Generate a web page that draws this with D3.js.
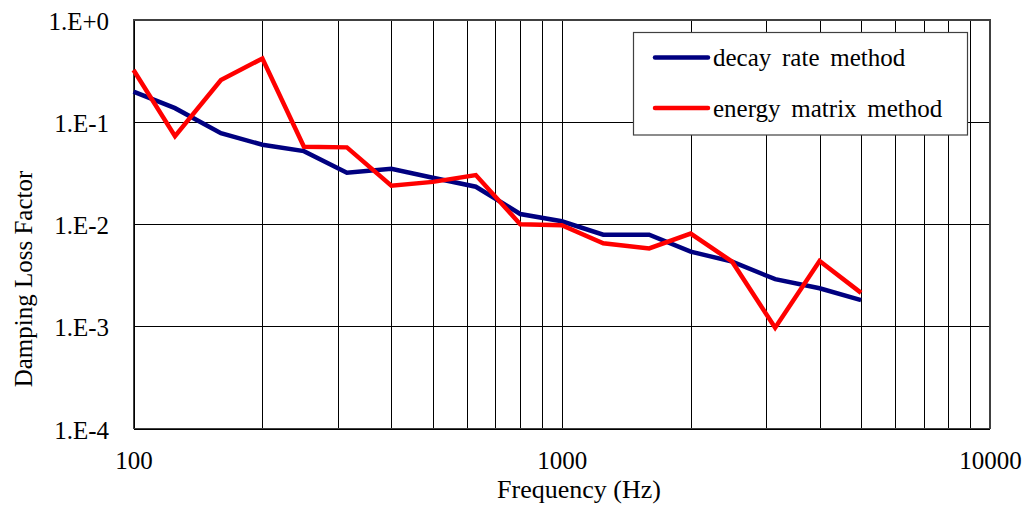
<!DOCTYPE html>
<html>
<head>
<meta charset="utf-8">
<script src="https://cdn.jsdelivr.net/npm/d3@7"></script>
<style>
  html, body { margin: 0; padding: 0; background: #fff; }
  svg { display: block; font-family: "Liberation Serif", "Times New Roman", serif; }
</style>
</head>
<body>
<div id="chart"></div>
<script>
const freqs = [100,125,160,200,250,315,400,500,630,800,1000,1250,1600,2000,2500,3150,4000,5000];
const decayRate = [0.199,0.137,0.078,0.060,0.052,0.032,0.035,0.0285,0.0233,0.0126,0.0107,0.0079,0.0079,0.0054,0.0043,0.0029,0.00236,0.00181];
const energyMatrix = [0.324,0.073,0.258,0.42,0.0574,0.0566,0.0238,0.026,0.0303,0.0100,0.0098,0.0065,0.0058,0.0081,0.0043,0.00097,0.00436,0.00213];
const seriesNames = ["decay rate method", "energy matrix method"];
const seriesColors = ["#000080", "#ff0000"];
const xGridValues = [100,200,300,400,500,600,700,800,900,1000,2000,3000,4000,5000,6000,7000,8000,9000,10000];
const xTickLabels = {100: "100", 1000: "1000", 10000: "10000"};
const yTickValues = [1e-4, 1e-3, 1e-2, 1e-1, 1];
const yTickLabels = ["1.E-4", "1.E-3", "1.E-2", "1.E-1", "1.E+0"];
const xTitle = "Frequency (Hz)";
const yTitle = "Damping Loss Factor";

const W = 1031, H = 506;
const plot = {left: 133.5, right: 990, top: 20, bottom: 428.5};

const svg = d3.select("#chart").append("svg").attr("width", W).attr("height", H);

const x = d3.scaleLog().domain([100, 10000]).range([plot.left, plot.right]);
const y = d3.scaleLog().domain([1e-4, 1]).range([plot.bottom, plot.top]);

// X axis with vertical gridlines
const xAxis = d3.axisBottom(x)
  .tickValues(xGridValues)
  .tickSize(-(plot.bottom - plot.top))
  .tickPadding(0)
  .tickFormat(d => xTickLabels[d] || "");
const gx = svg.append("g").attr("transform", `translate(0,${plot.bottom})`).call(xAxis);
gx.select(".domain").remove();
gx.selectAll(".tick line").attr("stroke", "#000").attr("stroke-width", 1).attr("shape-rendering", "crispEdges");
gx.selectAll(".tick text").attr("y", 40).attr("dy", null)
  .attr("font-size", 25).attr("fill", "#000")
  .attr("font-family", "'Liberation Serif', 'Times New Roman', serif");

// Y axis with horizontal gridlines
const yAxis = d3.axisLeft(y)
  .tickValues(yTickValues)
  .tickSize(-(plot.right - plot.left))
  .tickPadding(24.5)
  .tickFormat((d, i) => yTickLabels[i]);
const gy = svg.append("g").attr("transform", `translate(${plot.left},0)`).call(yAxis);
gy.select(".domain").remove();
gy.selectAll(".tick line").attr("stroke", "#000").attr("stroke-width", 1).attr("shape-rendering", "crispEdges");
gy.selectAll(".tick text").attr("dy", null).attr("y", 9.5)
  .attr("font-size", 25).attr("fill", "#000")
  .attr("font-family", "'Liberation Serif', 'Times New Roman', serif");

// plot border
svg.append("rect")
  .attr("x", plot.left).attr("y", plot.top)
  .attr("width", plot.right - plot.left).attr("height", plot.bottom - plot.top)
  .attr("fill", "none").attr("stroke", "#404040").attr("stroke-width", 1.2)
  .attr("shape-rendering", "crispEdges");

// lines
const line = d3.line().x(d => x(d[0])).y(d => y(d[1]));
[decayRate, energyMatrix].forEach((vals, i) => {
  svg.append("path")
    .datum(freqs.map((f, j) => [f, vals[j]]))
    .attr("d", line)
    .attr("fill", "none")
    .attr("stroke", seriesColors[i])
    .attr("stroke-width", 4.5)
    .attr("stroke-linejoin", "miter")
    .attr("stroke-linecap", "butt");
});

// legend
const lg = svg.append("g");
lg.append("rect").attr("x", 633.5).attr("y", 32.5).attr("width", 334).attr("height", 102.5)
  .attr("fill", "#fff").attr("stroke", "#404040").attr("stroke-width", 1.2);
seriesNames.forEach((name, i) => {
  const ly = 57.5 + i * 50.5;
  lg.append("line").attr("x1", 655).attr("x2", 708).attr("y1", ly).attr("y2", ly)
    .attr("stroke", seriesColors[i]).attr("stroke-width", 4.5).attr("stroke-linecap", "round");
  lg.append("text").attr("x", 713).attr("y", ly + 8.5).attr("font-size", 25)
    .attr("fill", "#000").attr("word-spacing", 4.5).text(name);
});

// axis titles
svg.append("text").attr("x", 579).attr("y", 498).attr("text-anchor", "middle")
  .attr("font-size", 26).attr("fill", "#000").text(xTitle);
svg.append("text").attr("transform", "translate(32,279) rotate(-90)")
  .attr("text-anchor", "middle").attr("font-size", 25).attr("fill", "#000").text(yTitle);
</script>
</body>
</html>
